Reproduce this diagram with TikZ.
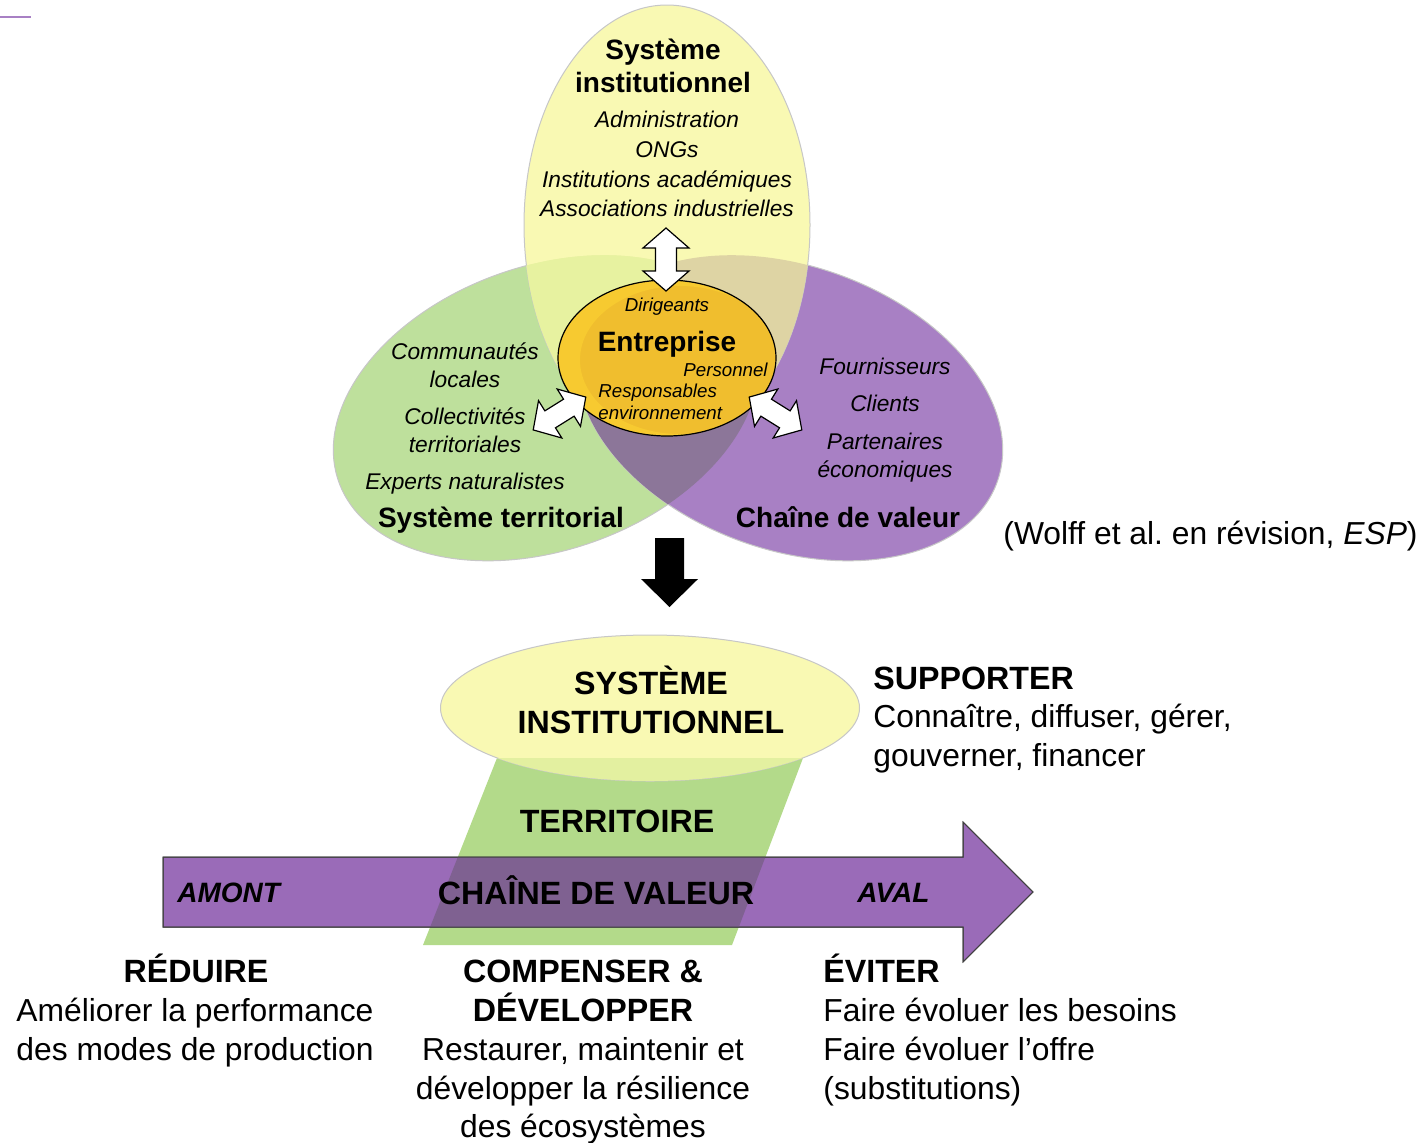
\documentclass[tikz,border=0pt]{standalone}
\usepackage{fontspec}
\setmainfont{Liberation Sans}
\frenchspacing
\begin{document}
\begin{tikzpicture}[x=0.5pt,y=-0.5pt,
  lbl/.style={anchor=base,inner sep=0pt},
  ttl/.style={lbl,font=\fontsize{14}{16}\selectfont\bfseries},
  itl/.style={lbl,font=\fontsize{11.35}{13}\selectfont\itshape},
  sml/.style={lbl,font=\fontsize{9.35}{11}\selectfont\itshape},
  big/.style={lbl,font=\fontsize{15.9}{18}\selectfont},
  bigb/.style={lbl,font=\fontsize{16.1}{18}\selectfont\bfseries},
  dirlbl/.style={lbl,font=\fontsize{14}{16}\selectfont\bfseries\itshape},
  rim/.style={draw=black!22,line width=0.5pt},
  blockarrow/.style={fill=white,draw=black,line width=0.6pt,line join=miter}]
\definecolor{cYel}{HTML}{F9F9B3}
\definecolor{cGrn}{HTML}{BEE09C}
\definecolor{cPur}{HTML}{A880C4}
\definecolor{cYG}{HTML}{E7F2A0}
\definecolor{cYP}{HTML}{DED4A4}
\definecolor{cGP}{HTML}{8C7699}
\definecolor{cOra}{HTML}{F0BE2E}
\definecolor{cOraL}{HTML}{F7CA30}
\definecolor{cLeaf}{HTML}{B3DA8A}
\definecolor{cLeafY}{HTML}{E3F0A0}
\definecolor{cBand}{HTML}{9A6BB8}
\definecolor{cBandG}{HTML}{7F6191}
\useasboundingbox (0,0) rectangle (1428,1142);
\fill[white] (0,0) rectangle (1428,1142);

% small rule at the top left
\draw[cPur,line width=1pt] (0,17) -- (31,17);

% three overlapping spheres
\def\ellGrn{(546,408) ellipse [x radius=110pt,y radius=71pt,rotate=19.6]}
\def\ellPur{(790,408) ellipse [x radius=110pt,y radius=71pt,rotate=-19.6]}
\def\ellYel{(667,225) ellipse [x radius=71.5pt,y radius=110pt]}
\fill[cGrn,rim] \ellGrn;
\fill[cPur,rim] \ellPur;
\fill[cYel,rim] \ellYel;
\begin{scope}\clip \ellYel; \fill[cYG] \ellGrn; \end{scope}
\begin{scope}\clip \ellYel; \fill[cYP] \ellPur; \end{scope}
% upper part of the triple overlap: greenish on the left half
\begin{scope}\clip \ellYel; \clip (0,0) rectangle (666,330); \fill[cYG] \ellGrn; \end{scope}
% territory / value chain overlap below the firm
\begin{scope}\clip \ellGrn; \clip (0,330) rectangle (1428,700); \fill[cGP] \ellPur; \end{scope}
\coordinate (ysys) at (667,225);
\coordinate (gsys) at (546,408);
\coordinate (psys) at (790,408);

% the firm in the middle
\fill[cOra] (667,358) ellipse [x radius=54.5pt,y radius=39pt];
\begin{scope}
  \clip (667,358) ellipse [x radius=54.5pt,y radius=39pt];
  \fill[cOraL,even odd rule] (667,358) ellipse [x radius=54.5pt,y radius=39pt]
       (680,360) ellipse [x radius=50pt,y radius=37pt];
\end{scope}
\draw[black,line width=0.6pt] (667,358) ellipse [x radius=54.5pt,y radius=39pt];
\node[inner sep=0pt,minimum width=109pt,minimum height=78pt] (firm) at (667,358) {};

% two-headed block arrows between the firm and each sphere
\begin{scope}[shift={(666,259.5)},rotate=90]
  \path[blockarrow] (-31.5,0) -- (-11.5,23) -- (-11.5,10.5) -- (11.5,10.5) -- (11.5,23)
    -- (31.5,0) -- (11.5,-23) -- (11.5,-10.5) -- (-11.5,-10.5) -- (-11.5,-23) -- cycle;
  \coordinate (arrTop) at (0,0);
\end{scope}
\begin{scope}[shift={(559.5,413.5)},rotate=32]
  \path[blockarrow] (-31,0) -- (-11,22) -- (-11,10) -- (11,10) -- (11,22)
    -- (31,0) -- (11,-22) -- (11,-10) -- (-11,-10) -- (-11,-22) -- cycle;
  \coordinate (arrLeft) at (0,0);
\end{scope}
\begin{scope}[shift={(775.5,413.5)},rotate=-32]
  \path[blockarrow] (-31,0) -- (-11,22) -- (-11,10) -- (11,10) -- (11,22)
    -- (31,0) -- (11,-22) -- (11,-10) -- (-11,-10) -- (-11,-22) -- cycle;
  \coordinate (arrRight) at (0,0);
\end{scope}

% labels of the institutional sphere
\node[ttl] (ysA) at (663,59) {Système};
\node[ttl] (ysB) at (663,92) {institutionnel};
\node[itl] (ys1) at (667,127) {Administration};
\node[itl] (ys2) at (667,157) {ONGs};
\node[itl] (ys3) at (667,187) {Institutions académiques};
\node[itl] (ys4) at (667,216) {Associations industrielles};

% labels of the firm
\node[sml] (fm1) at (667,311) {Dirigeants};
\node[ttl] (fmT) at (667,351) {Entreprise};
\node[sml,anchor=base east] (fm2) at (768,376) {Personnel};
\node[sml,anchor=base west] (fm3) at (598,397) {Responsables};
\node[sml,anchor=base west] (fm4) at (598,419) {environnement};

% labels of the territorial sphere
\node[itl] (gs1) at (465,359) {Communautés};
\node[itl] (gs2) at (465,387) {locales};
\node[itl] (gs3) at (465,424) {Collectivités};
\node[itl] (gs4) at (465,452) {territoriales};
\node[itl] (gs5) at (465,489) {Experts naturalistes};
\node[ttl] (gsT) at (501,527) {Système territorial};

% labels of the value chain sphere
\node[itl] (ps1) at (885,374) {Fournisseurs};
\node[itl] (ps2) at (885,411) {Clients};
\node[itl] (ps3) at (885,449) {Partenaires};
\node[itl] (ps4) at (885,477) {économiques};
\node[ttl] (psT) at (848,527) {Chaîne de valeur};

\node[big,anchor=base west] (cite) at (1003,544) {(Wolff et al. en révision, \textit{ESP})};

% downward arrow
\path[fill=black] (655,538) -- (684,538) -- (684,579) -- (698,579) -- (669.5,607)
  -- (641,579) -- (655,579) -- cycle;
\coordinate (down) at (669.5,572);

% lower scheme: territory band, institutional ellipse, value chain arrow
\def\leaf{(497,758) -- (803,758) -- (732,945) -- (423,945) -- cycle}
\def\instEll{(650,708) ellipse [x radius=104.75pt,y radius=36.5pt]}
\def\band{(163,857) -- (963,857) -- (963,822) -- (1033,892) -- (963,962) -- (963,927) -- (163,927) -- cycle}
\fill[cLeaf] \leaf;
\fill[cYel,rim] \instEll;
\begin{scope}\clip \instEll; \fill[cLeafY] \leaf; \end{scope}
\fill[cBand,draw=black!75,line width=0.5pt] \band;
\begin{scope}\clip \band; \fill[cBandG] \leaf; \end{scope}
\draw[black!75,line width=0.5pt] \band;

\node[bigb] (inst1) at (651,694) {SYSTÈME};
\node[bigb] (inst2) at (651,733) {INSTITUTIONNEL};
\node[bigb] (terr) at (617,832) {TERRITOIRE};
\node[dirlbl,anchor=base west] (amont) at (177,902) {AMONT};
\node[bigb] (chain) at (596,904) {CHAÎNE DE VALEUR};
\node[dirlbl,anchor=base west] (aval) at (857,902) {AVAL};

\node[bigb,anchor=base west] (sup0) at (873,689) {SUPPORTER};
\node[big,anchor=base west] (sup1) at (873,727) {Connaître, diffuser, gérer,};
\node[big,anchor=base west] (sup2) at (873,766) {gouverner, financer};

\node[bigb] (red0) at (196,982) {RÉDUIRE};
\node[big] (red1) at (195,1021) {Améliorer la performance};
\node[big] (red2) at (195,1060) {des modes de production};

\node[bigb] (cmp0) at (583,982) {COMPENSER \&};
\node[bigb] (cmp1) at (583,1021) {DÉVELOPPER};
\node[big] (cmp2) at (583,1060) {Restaurer, maintenir et};
\node[big] (cmp3) at (583,1099) {développer la résilience};
\node[big] (cmp4) at (583,1137) {des écosystèmes};

\node[bigb,anchor=base west] (evi0) at (823,982) {ÉVITER};
\node[big,anchor=base west] (evi1) at (823,1021) {Faire évoluer les besoins};
\node[big,anchor=base west] (evi2) at (823,1060) {Faire évoluer l’offre};
\node[big,anchor=base west] (evi3) at (823,1099) {(substitutions)};
\end{tikzpicture}
\end{document}
